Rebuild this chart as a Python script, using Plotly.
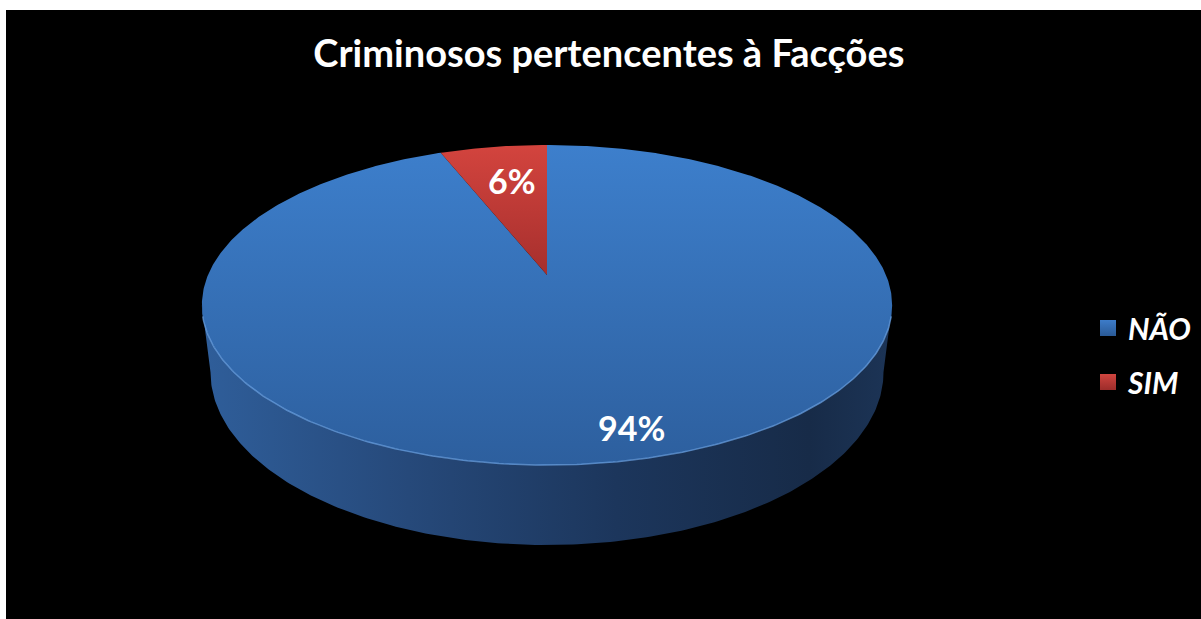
import numpy as np
import plotly.graph_objects as go

# ---- data -------------------------------------------------------------
categories = ["NÃO", "SIM"]
values = [94, 6]
chart_title = "Criminosos pertencentes à Facções"

# ---- styling ----------------------------------------------------------
top_colors = {  # (darker/bottom, lighter/top) of each slice's top face
    "NÃO": ("#2d5f9e", "#3d7fcc"),
    "SIM": ("#a62f2d", "#d3443e"),
}
legend_colors = {"NÃO": ("#3d7cc9", "#2a5a96"), "SIM": ("#d0453f", "#9c2c2a")}
side_scale = [[0.0, "#2f5e9a"], [0.3, "#26497a"], [0.6, "#1c365c"],
              [0.88, "#172b48"], [1.0, "#1c3456"]]
FONT = "Lato"

# ---- canvas / projection (pixel space, y pointing up) ----------------
W, H = 1201, 619
ML, MT = 6, 10
CX, CY = 547, 275            # pie centre on screen
RX, RY = 339, 154.4          # radii of the projected disc
PERSP = 0.1875               # perspective shrink towards the back
DEPTH = 65                   # thickness of the disc
BOTTOM_X = 0.975             # slight narrowing of the lower rim


def project(theta_deg, r=1.0, drop=0.0, xscale=1.0):
    """Clockwise angle from 12 o'clock -> screen coords (x, y-up)."""
    t = np.radians(theta_deg)
    X = r * np.sin(t)
    Z = r * np.cos(t)
    s = 1.0 / (1.0 + PERSP * Z)
    px = CX + RX * X * s * xscale
    py = CY - RY * Z * s + drop * s
    return px, H - py


total = float(sum(values))
ends = np.cumsum(values) / total * 360.0
starts = np.concatenate([[0.0], ends[:-1]])

fig = go.Figure()

# side wall of the disc (front half only is visible)
lim = np.degrees(np.arccos(-PERSP))
arc = np.linspace(lim, 360 - lim, 240)
tx, ty = project(arc)
bx, by = project(arc[::-1], drop=DEPTH, xscale=BOTTOM_X)
fig.add_trace(go.Scatter(
    x=np.concatenate([tx, bx, tx[:1]]), y=np.concatenate([ty, by, ty[:1]]),
    mode="lines", line=dict(width=0), fill="toself",
    fillgradient=dict(type="horizontal", colorscale=side_scale),
    hoverinfo="skip", showlegend=False,
))

# top faces of the slices
apex_x, apex_y = CX, H - CY
for cat, a0, a1 in zip(categories, starts, ends):
    ang = np.linspace(a0, a1, max(int((a1 - a0) * 2), 8))
    px, py = project(ang)
    xs = np.concatenate([[apex_x], px, [apex_x]])
    ys = np.concatenate([[apex_y], py, [apex_y]])
    lo, hi = top_colors[cat]
    fig.add_trace(go.Scatter(
        x=xs, y=ys, mode="lines", line=dict(width=0), fill="toself",
        fillgradient=dict(type="vertical", colorscale=[[0, lo], [1, hi]],
                          start=float(ys.min()), stop=float(ys.max())),
        name=cat, hoverinfo="skip", showlegend=False,
    ))

# light bevel along the front edge of the top face
hx, hy = project(np.linspace(lim + 4, 360 - lim - 4, 240))
fig.add_trace(go.Scatter(x=hx, y=hy, mode="lines",
                         line=dict(color="rgba(105,160,225,0.75)", width=1.5),
                         hoverinfo="skip", showlegend=False))

# percentage labels
label_r = {"NÃO": 0.85, "SIM": 0.70}
label_dx = {"NÃO": 20, "SIM": 4}
for cat, v, a0, a1 in zip(categories, values, starts, ends):
    lx, ly = project((a0 + a1) / 2, r=label_r[cat])
    fig.add_annotation(x=float(lx), y=float(ly), text=f"{round(v / total * 100)}%",
                       showarrow=False, xshift=label_dx[cat],
                       font=dict(family=FONT, size=34, color="white", weight="bold"))

# legend entries
for cat in categories:
    c, g = legend_colors[cat]
    fig.add_trace(go.Scatter(
        x=[None], y=[None], mode="markers", name=cat, legendgroup=cat,
        marker=dict(symbol="square", size=16, color=c,
                    gradient=dict(type="vertical", color=g),
                    line=dict(width=0)),
    ))

fig.update_layout(
    width=W, height=H,
    margin=dict(l=ML, r=0, t=MT, b=0, pad=0),
    paper_bgcolor="white", plot_bgcolor="black",
    title=dict(text=chart_title, x=0.507, y=1 - 54 / H, xref="container",
               yref="container", xanchor="center", yanchor="middle",
               font=dict(family=FONT, size=38, color="white", weight="bold")),
    xaxis=dict(range=[ML, W], visible=False, fixedrange=True),
    yaxis=dict(range=[0, H - MT], visible=False, fixedrange=True),
    showlegend=True,
    legend=dict(x=(1088 - ML) / (W - ML), y=(H - 302) / (H - MT),
                xanchor="left", yanchor="top", bgcolor="rgba(0,0,0,0)",
                tracegroupgap=12,
                font=dict(family=FONT, size=30, color="white",
                          weight="bold", style="italic")),
)

fig.write_html("out.html", config={"displayModeBar": False})
